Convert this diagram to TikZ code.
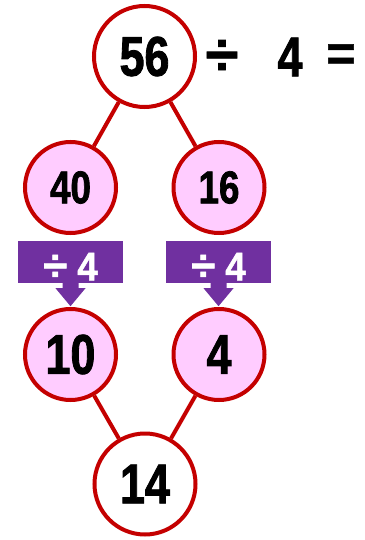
\documentclass[tikz,border=0pt]{standalone}
\usepackage{fontspec}
\setmainfont{Liberation Sans}
\newfontfamily\numf[FakeStretch=0.8,FakeBold=1.5]{Liberation Sans Bold}
\newfontfamily\boxf[FakeStretch=0.92,FakeBold=1.2]{Liberation Sans Bold}
\newfontfamily\symf[FakeBold=1]{Liberation Sans Bold}
\usetikzlibrary{calc}
\definecolor{ringred}{RGB}{196,0,0}
\definecolor{pinkfill}{RGB}{255,204,255}
\definecolor{boxpurple}{RGB}{112,48,160}
\begin{document}
\begin{tikzpicture}[x=1pt,y=-1pt,
  ring/.style={circle, draw=ringred, line width=4pt, inner sep=0pt, text=black},
  bigring/.style={ring, fill=white, minimum size=101pt, font=\numf\fontsize{56}{60}\selectfont},
  pinkring/.style={ring, fill=pinkfill, minimum size=91pt},
  smallnum/.style={font=\numf\fontsize{46}{50}\selectfont},
  largenum/.style={font=\numf\fontsize{56}{60}\selectfont},
  conn/.style={draw=ringred, line width=4pt},
  opbox/.style={fill=boxpurple, minimum width=105pt, minimum height=42pt, inner sep=0pt,
    text=white, text height=37pt, text depth=0pt, font=\boxf\fontsize{40}{42}\selectfont},
  topsym/.style={inner sep=0pt, font=\symf\fontsize{60}{64}\selectfont},
  arrowfill/.style={fill=boxpurple}
]
\useasboundingbox (0,0) rectangle (364,540);
% circles
\node[bigring] (n56) at (144.5,56.5) {56};
\node[pinkring, smallnum] (n40) at (70.5,187.5) {40};
\node[pinkring, smallnum] (n16) at (219,187.5) {16};
\node[pinkring, largenum] (n10) at (70.5,354.5) {10};
\node[pinkring, largenum] (n4) at (219,354.5) {4};
\node[bigring] (n14) at (145,484) {14};
% connectors
\draw[conn] (n56) -- (n40);
\draw[conn] (n56) -- (n16);
\draw[conn] (n10) -- (n14);
\draw[conn] (n4) -- (n14);
% top equation
\node[topsym] (dv) at (222,57.5) {÷};
\node[topsym, font=\numf\fontsize{56}{60}\selectfont] (four) at (290,57) {4};
\node[topsym, font=\symf\fontsize{50}{54}\selectfont] (eq) at (341,57.5) {=};
% operation boxes
\node[opbox] (b1) at (70.5,262) {{\symf\fontsize{44}{46}\selectfont÷}\hspace{10pt}4};
\node[opbox] (b2) at (218.5,262) {{\symf\fontsize{44}{46}\selectfont÷}\hspace{10pt}4};
\foreach \b in {b1,b2}{
  \fill[arrowfill] ($(\b.south)+(-8,-1)$) -- ($(\b.south)+(-8,5)$) -- ($(\b.south)+(-15,5)$)
    -- ($(\b.south)+(0,23)$) -- ($(\b.south)+(15,5)$) -- ($(\b.south)+(8,5)$)
    -- ($(\b.south)+(8,-1)$) -- cycle;
}
\end{tikzpicture}
\end{document}
